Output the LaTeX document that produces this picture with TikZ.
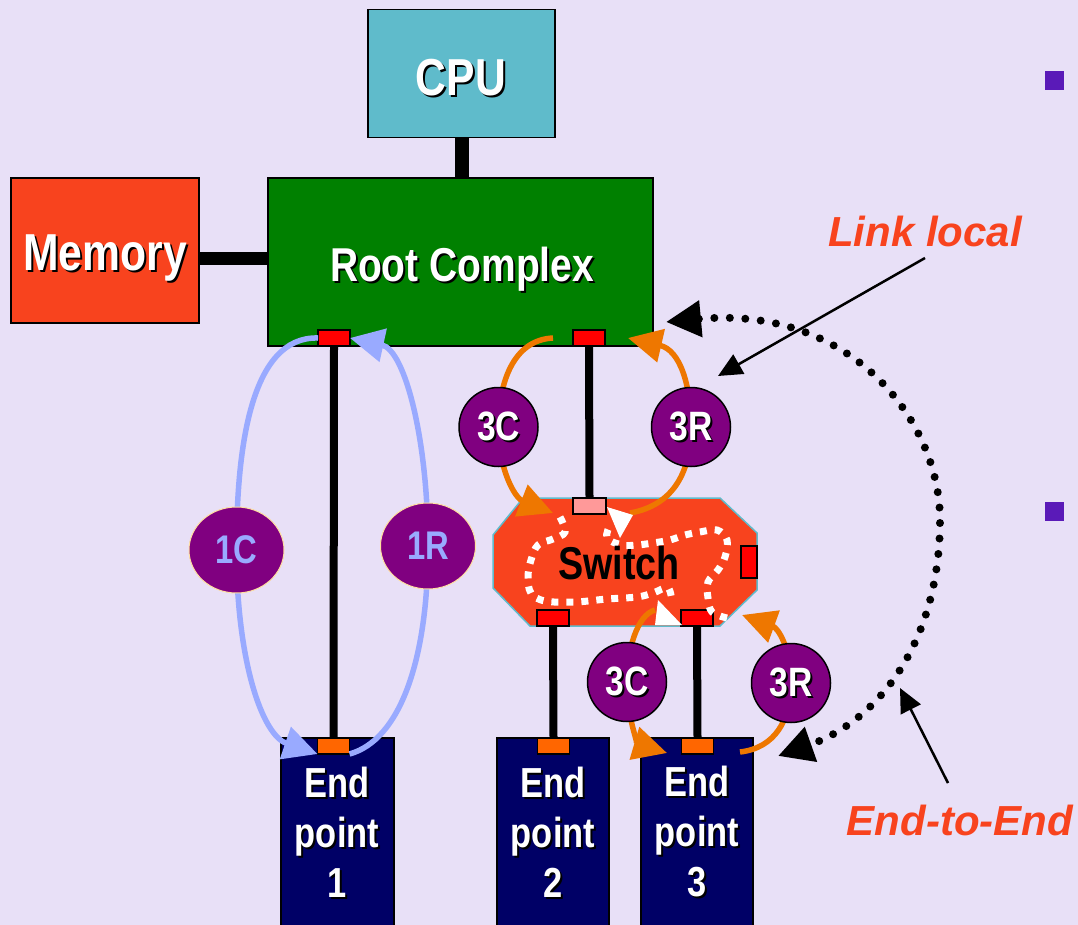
\documentclass[tikz,border=0pt]{standalone}
\usepackage{fontspec}
\setmainfont{Liberation Sans}
\newfontfamily\cond{Liberation Sans}[FakeStretch=0.82]
\usetikzlibrary{arrows.meta,shapes.geometric}

\definecolor{bg}{HTML}{E8E0F7}
\definecolor{cpucol}{HTML}{5FBBCB}
\definecolor{memcol}{HTML}{F8431E}
\definecolor{rootcol}{HTML}{008000}
\definecolor{epcol}{HTML}{000066}
\definecolor{portred}{HTML}{FF0000}
\definecolor{portpink}{HTML}{FF9999}
\definecolor{portorange}{HTML}{FF6600}
\definecolor{pktpurple}{HTML}{800080}
\definecolor{linkblue}{HTML}{99AAFF}
\definecolor{linkorange}{HTML}{EE7700}
\definecolor{bulletcol}{HTML}{5A1AB8}
\definecolor{notecol}{HTML}{F8431E}
\definecolor{ringcol}{HTML}{FFE0A0}

% white label with a small black drop shadow
\newcommand\shadowed[1]{\leavevmode\rlap{\kern2pt\raisebox{-2pt}{\textcolor{black}{#1}}}#1}

\tikzset{
  box/.style={draw=black, line width=1.2pt, inner sep=0pt, outer sep=0pt},
  port/.style={draw=black, line width=1.2pt, inner sep=0pt, outer sep=0pt,
    minimum width=32pt, minimum height=16pt},
  wire/.style={line width=8pt, draw=black},
  lbl/.style={text=white, font=\cond\bfseries\fontsize{#1}{#1}\selectfont},
  eplbl/.style={text=white, align=center,
    font=\cond\bfseries\fontsize{42}{50}\selectfont},
  bluearr/.style={line width=5.5pt, draw=linkblue,
    -{Triangle[length=34pt,width=33pt]}},
  orarr/.style={line width=5.5pt, draw=linkorange,
    -{Triangle[length=34pt,width=33pt]}},
  tlp/.style={circle, fill=pktpurple, draw=black, line width=1.5pt,
    minimum size=79pt, inner sep=0pt, text=white,
    font=\cond\bfseries\fontsize{41}{41}\selectfont},
  dllp/.style={ellipse, fill=pktpurple, draw=ringcol, line width=1pt,
    minimum width=95pt, minimum height=86pt, inner sep=0pt, text=linkblue,
    font=\cond\bfseries\fontsize{40}{40}\selectfont},
  wdots/.style={draw=white, line width=7pt, dash pattern=on 7pt off 8pt},
  bigdots/.style={draw=black, line width=8pt, line cap=round,
    dash pattern=on 0pt off 15.5pt,
    {Triangle[length=35pt,width=35pt]}-{Triangle[length=35pt,width=35pt]}},
  note/.style={text=notecol, font=\bfseries\itshape\fontsize{42}{42}\selectfont},
  pointer/.style={draw=black, line width=2.5pt,
    -{Triangle[length=24pt,width=22pt]}},
  bullet/.style={fill=bulletcol, minimum size=19pt, inner sep=0pt}
}

\begin{document}
\begin{tikzpicture}[x=1pt,y=-1pt]
\useasboundingbox (0,0) rectangle (1078,925);
\fill[bg] (0,0) rectangle (1078,925);

% ---- main boxes
\node[box, fill=cpucol, minimum width=187pt, minimum height=128pt] (cpu) at (461.5,73.5) {};
\node[box, fill=memcol, minimum width=188pt, minimum height=145pt] (mem) at (105,250.5) {};
\node[box, fill=rootcol, minimum width=385pt, minimum height=168pt] (root) at (460.5,262) {};

% ---- host links
\draw[line width=14pt] (cpu.south) -- (cpu.south |- root.north);
\draw[line width=13pt] ([yshift=-8pt]mem.east) -- ([yshift=-8pt]mem.east -| root.west);

% ---- endpoints
\node[box, fill=epcol, minimum width=113pt, minimum height=190pt, anchor=north] (ep1) at (337.5,738) {};
\node[box, fill=epcol, minimum width=112pt, minimum height=190pt, anchor=north] (ep2) at (553,738) {};
\node[box, fill=epcol, minimum width=112pt, minimum height=190pt, anchor=north] (ep3) at (697,738) {};

% ---- switch body
\fill[memcol, draw=cpucol, line width=1.5pt]
  (523,498) -- (720,498) -- (757,533) -- (757,590) -- (720,626)
  -- (530,626) -- (493,588) -- (493,535) -- cycle;

% ---- ports
\node[port, fill=portred] (rp1) at (334,338) {};
\node[port, fill=portred] (rp2) at (589,338) {};
\node[port, fill=portpink, minimum width=33pt] (swt) at (589.5,506) {};
\node[port, fill=portred] (swb1) at (553,618) {};
\node[port, fill=portred] (swb2) at (697,618) {};
\node[port, fill=portred, minimum width=16pt, minimum height=32pt] (swr) at (749,562) {};
\node[port, fill=portorange] (ep1p) at (333.5,746) {};
\node[port, fill=portorange] (ep2p) at (553.5,746) {};
\node[port, fill=portorange] (ep3p) at (697.5,746) {};

% ---- physical links
\draw[wire] (rp1.south) -- (ep1p.north);
\draw[wire] (rp2.south) -- (swt.north);
\draw[wire] (swb1.south) -- (ep2p.north);
\draw[wire] (swb2.south) -- (ep3p.north);

% ---- packet positions
\coordinate (c1p) at (236.5,550);
\coordinate (r1p) at (428,546);
\coordinate (c3ap) at (498.5,427);
\coordinate (r3ap) at (691,427);
\coordinate (c3bp) at (627,682);
\coordinate (r3bp) at (791,683);

% ---- loop ends
\coordinate (o1s) at (553,338);
\coordinate (o1e) at (553,513);
\coordinate (o2s) at (630,513);
\coordinate (o2e) at (628,338);
\coordinate (o3s) at (655,610);
\coordinate (o3e) at (667,753);
\coordinate (o4s) at (740,752);
\coordinate (o4e) at (742,615);

% ---- link-level loops on link 1
\draw[bluearr] (rp1.west) .. controls (250,336) and (236.5,450) .. (c1p)
  .. controls (236.5,660) and (262,735) .. (ep1p.south west);
\draw[bluearr] (ep1p.south east) .. controls (400,740) and (428,660) .. (r1p)
  .. controls (428,440) and (405,350) .. (rp1.east);

% ---- link-level loops on the root/switch link
\draw[orarr] (o1s) .. controls (512,340) and (498.5,385) .. (c3ap)
  .. controls (498.5,470) and (515,498) .. (o1e);
\draw[orarr] (o2s) .. controls (675,505) and (691,470) .. (r3ap)
  .. controls (691,385) and (680,350) .. (o2e);

% ---- link-level loops on the switch/endpoint 3 link
\draw[orarr] (o3s) .. controls (637,615) and (627,650) .. (c3bp)
  .. controls (627,722) and (640,745) .. (o3e);
\draw[orarr] (o4s) .. controls (775,748) and (791,720) .. (r3bp)
  .. controls (791,648) and (778,628) .. (o4e);

% ---- packet circles
\node[dllp] (c1) at (c1p) {1C};
\node[dllp] (r1) at (r1p) {1R};
\node[tlp] (c3a) at (c3ap) {\shadowed{3C}};
\node[tlp] (r3a) at (r3ap) {\shadowed{3R}};
\node[tlp] (c3b) at (c3bp) {\shadowed{3C}};
\node[tlp] (r3b) at (r3bp) {\shadowed{3R}};

% ---- routing through the switch
\draw[wdots] plot[smooth, tension=0.6] coordinates {(560,517) (565,532) (553,539) (538,545)
  (531,560) (528,577) (531,593) (545,601) (575,602) (607,599) (637,597)
  (653,593) (668,588) (672,603)};
\draw[wdots] plot[smooth, tension=0.6] coordinates {(727,618) (712,612) (708,598) (708,582)
  (718,570) (725,557) (727,540) (717,530) (700,532) (685,535) (670,540)
  (653,543) (637,545) (622,545) (607,538) (610,525)};
\fill[white] (607,507) -- (633,515) -- (620,538) -- cycle;
\fill[white] (658,600) -- (655,625) -- (682,625) -- cycle;

% ---- labels
\node[lbl=52] (cpul) at (461,79) {\shadowed{CPU}};
\node[lbl=52] (meml) at (105,259) {\shadowed{Memory}};
\node[lbl=47.5] (rootl) at (462,270) {\shadowed{Root Complex}};
\node[text=black, font=\cond\bfseries\fontsize{46}{46}\selectfont] (swl) at (619,563) {Switch};
\node[eplbl] (ep1l) at (337,833) {\shadowed{End}\\\shadowed{point}\\\shadowed{1}};
\node[eplbl] (ep2l) at (553,833) {\shadowed{End}\\\shadowed{point}\\\shadowed{2}};
\node[eplbl] (ep3l) at (697,833) {\shadowed{End}\\\shadowed{point}\\\shadowed{3}};

% ---- end-to-end path
\coordinate (e2es) at (666,322);
\coordinate (e2ee) at (778,756);
\draw[bigdots] (e2es) .. controls (850,305) and (940,420) .. (940,520)
  .. controls (940,640) and (880,720) .. (e2ee);

% ---- annotations
\node[note] (ll) at (925,231) {Link local};
\node[note] (ee) at (960,820) {End-to-End};
\coordinate (llfrom) at (925,258);
\coordinate (llto) at (718,376);
\coordinate (eefrom) at (948,783);
\coordinate (eeto) at (900,688);
\draw[pointer] (llfrom) -- (llto);
\draw[pointer] (eefrom) -- (eeto);

% ---- bullets
\node[bullet] (b1) at (1054.5,80.5) {};
\node[bullet] (b2) at (1054.5,511.5) {};
\end{tikzpicture}
\end{document}
